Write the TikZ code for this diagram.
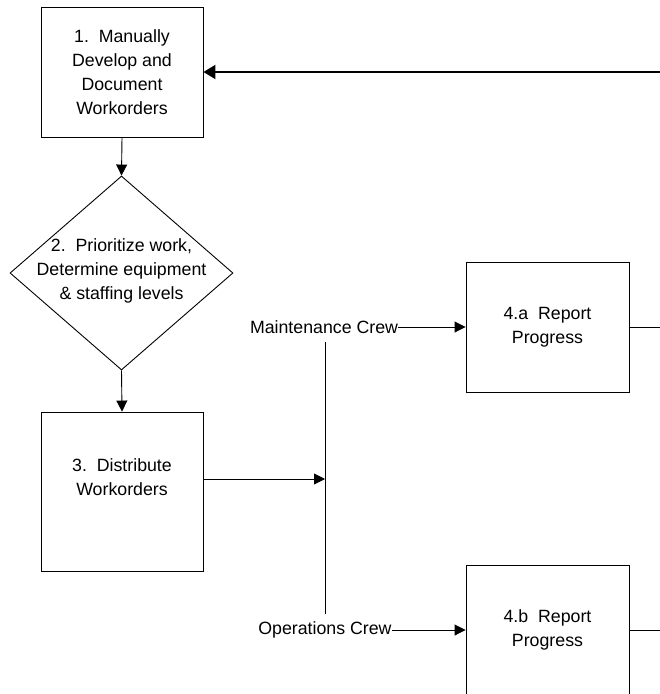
\documentclass[tikz,border=0pt]{standalone}
\usepackage{fontspec}
\setmainfont{Liberation Sans}
\usetikzlibrary{shapes.geometric,arrows.meta}
\tikzstyle{wo}=[shape=rectangle, draw, minimum width=162pt, minimum height=130pt, inner sep=0, align=center]
\tikzstyle{dec}=[shape=diamond, draw, minimum width=223pt, minimum height=194pt, inner sep=0]
\tikzstyle{txt}=[inner sep=0, align=center]
\tikzstyle{arr}=[-{Triangle[length=11pt,width=11pt]}]

\begin{document}
\begin{tikzpicture}[x=1pt, y=-1pt, line width=0.9pt, font=\fontsize{17.75}{24}\selectfont]
\useasboundingbox (0,0) rectangle (660,694);
\node at (122,72)[wo](w1){1.\ \ Manually\\Develop and\\Document\\Workorders};
\node at (121.5,273)[dec](d2){};
\node at (121.5,271)[txt](t2){2.\ \ Prioritize work,\\Determine equipment\\\& staffing levels};
\node at (122,491.5)[wo, minimum height=159pt](w3){};
\node at (122,477)[txt](t3){3.\ \ Distribute\\Workorders};
\node at (547.5,327)[wo, minimum width=163pt](r4a){4.a\ \ Report\\Progress};
\node at (547.5,630)[wo, minimum width=163pt](r4b){4.b\ \ Report\\Progress};
\node at (324,327)[txt](mc){Maintenance Crew};
\node at (325,630)[txt](oc){Operations Crew};
\coordinate (fb) at (660,72);
\coordinate (j) at (325,479);
\coordinate (bt) at (325,342);
\coordinate (bb) at (325,614);
\coordinate (ea) at (660,327);
\coordinate (eb) at (660,630);
\draw[arr, line width=2pt, -{Triangle[length=12pt,width=14pt]}] (fb)--(w1.east);
\draw[arr] (w1.south)--(d2.north);
\draw[arr] (d2.south)--(w3.north);
\draw[arr] (w3.east |- j)--(j);
\draw (bt)--(bb);
\draw[arr] (mc.east)--(r4a.west);
\draw[arr] (oc.east)--(r4b.west);
\draw (r4a.east)--(ea);
\draw (r4b.east)--(eb);
\end{tikzpicture}
\end{document}
